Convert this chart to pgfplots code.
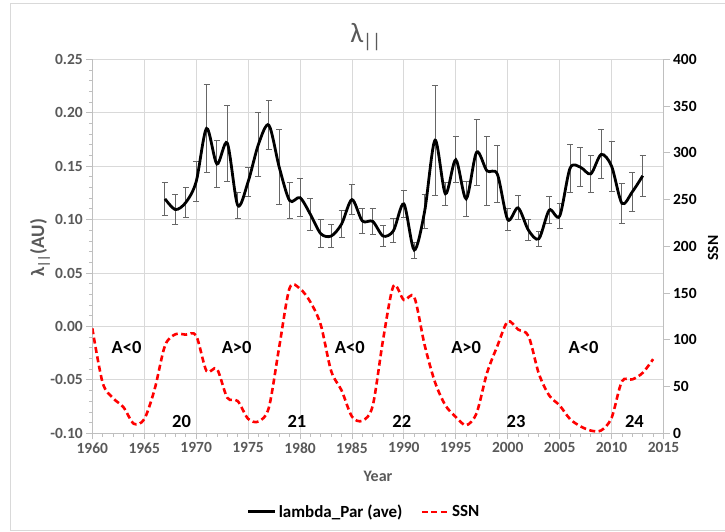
\documentclass[border=0pt]{standalone}
\usepackage{fontspec}
\setmainfont{Carlito}
\usepackage{pgfplots}
\pgfplotsset{compat=1.18}
\definecolor{txtgray}{HTML}{595959}
\definecolor{gridgray}{HTML}{D9D9D9}
\definecolor{axgray}{HTML}{BFBFBF}
\definecolor{ssnred}{HTML}{FF0000}

\pgfplotsset{
  common/.style={
    at={(92.3pt,98.7pt)}, anchor=south west,
    width=571.2pt, height=374pt, scale only axis,
    xmin=1960, xmax=2015,
    /pgf/number format/assume math mode=true,
    axis line style={axgray, -, line width=0.8pt},
    tick style={axgray, line width=0.8pt},
    tick align=outside,
    major tick length=6pt, minor tick length=3.5pt,
  },
}

\begin{document}
\begin{tikzpicture}[x=1pt,y=1pt]
\useasboundingbox (0,0) rectangle (725,532);
\draw[gridgray, line width=0.8pt] (10,1.5) -- (10,529) -- (730,529);
\draw[gridgray, line width=0.8pt] (10,1.5) -- (730,1.5);
\node[font=\fontsize{28}{32}\selectfont, text=txtgray] at (366,495) {λ\textsubscript{||}};
% axis titles
\node[font=\bfseries\fontsize{19}{21}\selectfont, text=txtgray, rotate=90] at (40,284) {λ\textsubscript{||}(AU)};
\node[font=\bfseries\fontsize{15.5}{18}\selectfont, text=black, rotate=90] at (713,284) {SSN};
\node[font=\bfseries\fontsize{16}{18}\selectfont, text=txtgray] at (378,56) {Year};

% left axis: lambda parallel with error bars
\begin{axis}[
  common,
  ymin=-0.10, ymax=0.25,
  axis x line*=bottom, axis y line*=left,
  xtick={1960,1965,...,2015}, minor x tick num=4,
  ytick={-0.1,-0.05,0,0.05,0.1,0.15,0.2,0.25}, minor y tick num=4,
  xmajorgrids, ymajorgrids,
  grid style={gridgray, line width=0.8pt},
  xticklabel style={font=\bfseries\fontsize{15.5}{17}\selectfont, text=txtgray,
    /pgf/number format/1000 sep={}},
  yticklabel style={font=\bfseries\fontsize{15.5}{17}\selectfont, text=txtgray,
    /pgf/number format/.cd, fixed, fixed zerofill, precision=2},
]
\addplot[draw=none, forget plot,
  error bars/.cd, y dir=both, y explicit,
  error bar style={draw=black!60, solid, line width=1pt},
  error mark options={draw=black!60, solid, rotate=90, mark size=3pt, line width=1pt}]
coordinates {
(1967,0.1194) +- (0,0.0157)
(1968,0.1094) +- (0,0.0138)
(1969,0.1160) +- (0,0.0141)
(1970,0.1354) +- (0,0.0185)
(1971,0.1853) +- (0,0.0410)
(1972,0.1520) +- (0,0.0219)
(1973,0.1715) +- (0,0.0354)
(1974,0.1134) +- (0,0.0124)
(1975,0.1353) +- (0,0.0136)
(1976,0.1705) +- (0,0.0300)
(1977,0.1884) +- (0,0.0232)
(1978,0.1490) +- (0,0.0350)
(1979,0.1178) +- (0,0.0172)
(1980,0.1205) +- (0,0.0177)
(1981,0.1049) +- (0,0.0149)
(1982,0.0868) +- (0,0.0129)
(1983,0.0846) +- (0,0.0107)
(1984,0.0958) +- (0,0.0127)
(1985,0.1187) +- (0,0.0143)
(1986,0.0987) +- (0,0.0116)
(1987,0.0983) +- (0,0.0121)
(1988,0.0846) +- (0,0.0097)
(1989,0.0896) +- (0,0.0113)
(1990,0.1146) +- (0,0.0124)
(1991,0.0715) +- (0,0.0075)
(1992,0.1077) +- (0,0.0161)
(1993,0.1743) +- (0,0.0514)
(1994,0.1242) +- (0,0.0107)
(1995,0.1560) +- (0,0.0215)
(1996,0.1194) +- (0,0.0163)
(1997,0.1630) +- (0,0.0310)
(1998,0.1456) +- (0,0.0324)
(1999,0.1425) +- (0,0.0268)
(2000,0.1000) +- (0,0.0102)
(2001,0.1110) +- (0,0.0113)
(2002,0.0900) +- (0,0.0097)
(2003,0.0821) +- (0,0.0072)
(2004,0.1089) +- (0,0.0124)
(2005,0.1033) +- (0,0.0114)
(2006,0.1480) +- (0,0.0226)
(2007,0.1490) +- (0,0.0185)
(2008,0.1428) +- (0,0.0174)
(2009,0.1610) +- (0,0.0230)
(2010,0.1500) +- (0,0.0235)
(2011,0.1152) +- (0,0.0190)
(2012,0.1260) +- (0,0.0180)
(2013,0.1410) +- (0,0.0192)
};
\addplot[black, line width=2.8pt, smooth, tension=0.5, mark=none] coordinates {
(1967,0.1194) (1968,0.1094) (1969,0.1160) (1970,0.1354) (1971,0.1853)
(1972,0.1520) (1973,0.1715) (1974,0.1134) (1975,0.1353) (1976,0.1705)
(1977,0.1884) (1978,0.1490) (1979,0.1178) (1980,0.1205) (1981,0.1049)
(1982,0.0868) (1983,0.0846) (1984,0.0958) (1985,0.1187) (1986,0.0987)
(1987,0.0983) (1988,0.0846) (1989,0.0896) (1990,0.1146) (1991,0.0715)
(1992,0.1077) (1993,0.1743) (1994,0.1242) (1995,0.1560) (1996,0.1194)
(1997,0.1630) (1998,0.1456) (1999,0.1425) (2000,0.1000) (2001,0.1110)
(2002,0.0900) (2003,0.0821) (2004,0.1089) (2005,0.1033) (2006,0.1480)
(2007,0.1490) (2008,0.1428) (2009,0.1610) (2010,0.1500) (2011,0.1152)
(2012,0.1260) (2013,0.1410)
};
\begin{scope}[font=\bfseries\fontsize{18.5}{20}\selectfont]
\node at (axis cs:1963.3,-0.020) {A<0};
\node at (axis cs:1973.9,-0.020) {A>0};
\node at (axis cs:1984.8,-0.020) {A<0};
\node at (axis cs:1996.0,-0.020) {A>0};
\node at (axis cs:2007.3,-0.020) {A<0};
\node at (axis cs:1968.6,-0.089) {20};
\node at (axis cs:1979.7,-0.089) {21};
\node at (axis cs:1989.8,-0.089) {22};
\node at (axis cs:2000.8,-0.089) {23};
\node at (axis cs:2012.2,-0.089) {24};
\end{scope}
\end{axis}

% right axis: sunspot number
\begin{axis}[
  common,
  ymin=0, ymax=400,
  axis x line=none, axis y line*=right,
  ytick={0,50,...,400},
  yticklabel style={font=\bfseries\fontsize{15.5}{17}\selectfont, text=black},
  legend columns=2,
  legend style={at={(axis description cs:0.476,-0.21)}, anchor=center,
    draw=none, fill=none, font=\bfseries\fontsize{17}{19}\selectfont,
    /tikz/every even column/.append style={column sep=16pt}},
  legend image code/.code={\draw[#1] (0pt,0pt) -- (27pt,0pt);},
]
\addlegendimage{black, line width=2.8pt}
\addlegendentry{lambda\_Par (ave)}
\addplot[ssnred, line width=2.6pt, dash pattern=on 6pt off 3.5pt, smooth, tension=0.5, mark=none] coordinates {
(1960,112.3) (1961,53.9) (1962,37.6) (1963,27.9) (1964,10.2)
(1965,15.1) (1966,47.0) (1967,93.8) (1968,105.9) (1969,105.5)
(1970,104.5) (1971,66.6) (1972,68.9) (1973,38.0) (1974,34.5)
(1975,15.5) (1976,12.6) (1977,27.5) (1978,92.5) (1979,155.4)
(1980,154.6) (1981,140.4) (1982,115.9) (1983,66.6) (1984,45.9)
(1985,17.9) (1986,13.4) (1987,29.4) (1988,100.2) (1989,157.6)
(1990,142.6) (1991,145.7) (1992,94.3) (1993,54.6) (1994,29.9)
(1995,17.5) (1996,8.6) (1997,21.5) (1998,64.3) (1999,93.3)
(2000,119.6) (2001,111.0) (2002,104.0) (2003,63.7) (2004,40.4)
(2005,29.8) (2006,15.2) (2007,7.5) (2008,2.9) (2009,3.1)
(2010,16.5) (2011,55.7) (2012,57.6) (2013,64.7) (2014,79.3)
};
\addlegendentry{SSN}
\end{axis}
\end{tikzpicture}
\end{document}
